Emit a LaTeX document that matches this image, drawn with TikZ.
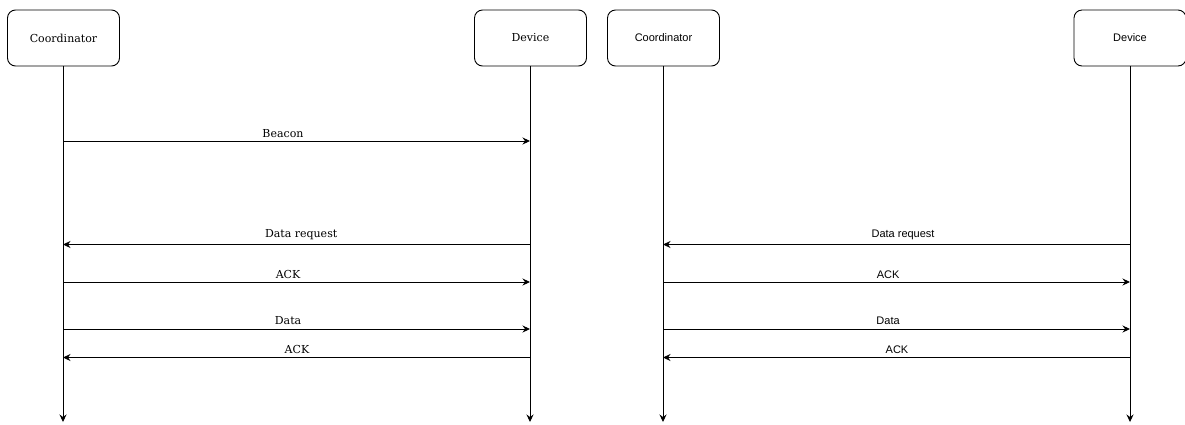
\documentclass[tikz,border=0pt]{standalone}
\usepackage{fontspec}
\setmainfont{DejaVu Serif}
\newfontfamily\sansfont{Liberation Sans}
\usetikzlibrary{arrows.meta}
\begin{document}
\begin{tikzpicture}[x=1pt,y=-1pt,
  actor/.style={draw=black, line width=0.9pt, rounded corners=8pt,
    minimum width=112pt, minimum height=56pt, inner sep=0pt,
    font=\fontsize{11}{13}\selectfont},
  tip/.style={-{Stealth[length=7.5pt,width=7pt,inset=2.5pt]}},
  life/.style={line width=0.9pt, tip},
  msg/.style={line width=0.9pt, tip},
  lbl/.style={anchor=base, inner sep=0pt, font=\fontsize{11}{13}\selectfont},
  slbl/.style={lbl, font=\sansfont\fontsize{11}{13}\selectfont}]
\useasboundingbox (0,0) rectangle (1185,424);

% ---- left chart (serif) ----
\node[actor] (c1) at (63.5,38) {Coordinator};
\node[actor] (d1) at (530.5,38) {Device};
\coordinate (c1end) at (63,422);
\coordinate (d1end) at (530,422);
\draw[life] (c1.south -| c1end) -- (c1end);
\draw[life] (d1.south -| d1end) -- (d1end);

\draw[msg] (c1end |- 0,141) -- (d1end |- 0,141)
  node[lbl, pos=0.471, yshift=4pt] {Beacon};
\draw[msg] (d1end |- 0,244.5) -- (c1end |- 0,244.5)
  node[lbl, pos=0.49, yshift=7.5pt] {Data request};
\draw[msg] (c1end |- 0,282) -- (d1end |- 0,282)
  node[lbl, pos=0.482, yshift=3.5pt] {ACK};
\draw[msg] (c1end |- 0,329) -- (d1end |- 0,329)
  node[lbl, pos=0.482, yshift=5pt] {Data};
\draw[msg] (d1end |- 0,357.5) -- (c1end |- 0,357.5)
  node[lbl, pos=0.499, yshift=4.5pt] {ACK};

% ---- right chart (sans) ----
\node[actor, font=\sansfont\fontsize{11}{13}\selectfont] (c2) at (663.5,38) {Coordinator};
\node[actor, font=\sansfont\fontsize{11}{13}\selectfont] (d2) at (1130,38) {Device};
\coordinate (c2end) at (663,422);
\coordinate (d2end) at (1130,422);
\draw[life] (c2.south -| c2end) -- (c2end);
\draw[life] (d2.south -| d2end) -- (d2end);

\draw[msg] (d2end |- 0,244.5) -- (c2end |- 0,244.5)
  node[slbl, pos=0.486, yshift=7.5pt] {Data request};
\draw[msg] (c2end |- 0,282) -- (d2end |- 0,282)
  node[slbl, pos=0.482, yshift=3.5pt] {ACK};
\draw[msg] (c2end |- 0,329) -- (d2end |- 0,329)
  node[slbl, pos=0.482, yshift=5pt] {Data};
\draw[msg] (d2end |- 0,357.5) -- (c2end |- 0,357.5)
  node[slbl, pos=0.499, yshift=4.5pt] {ACK};
\end{tikzpicture}
\end{document}
